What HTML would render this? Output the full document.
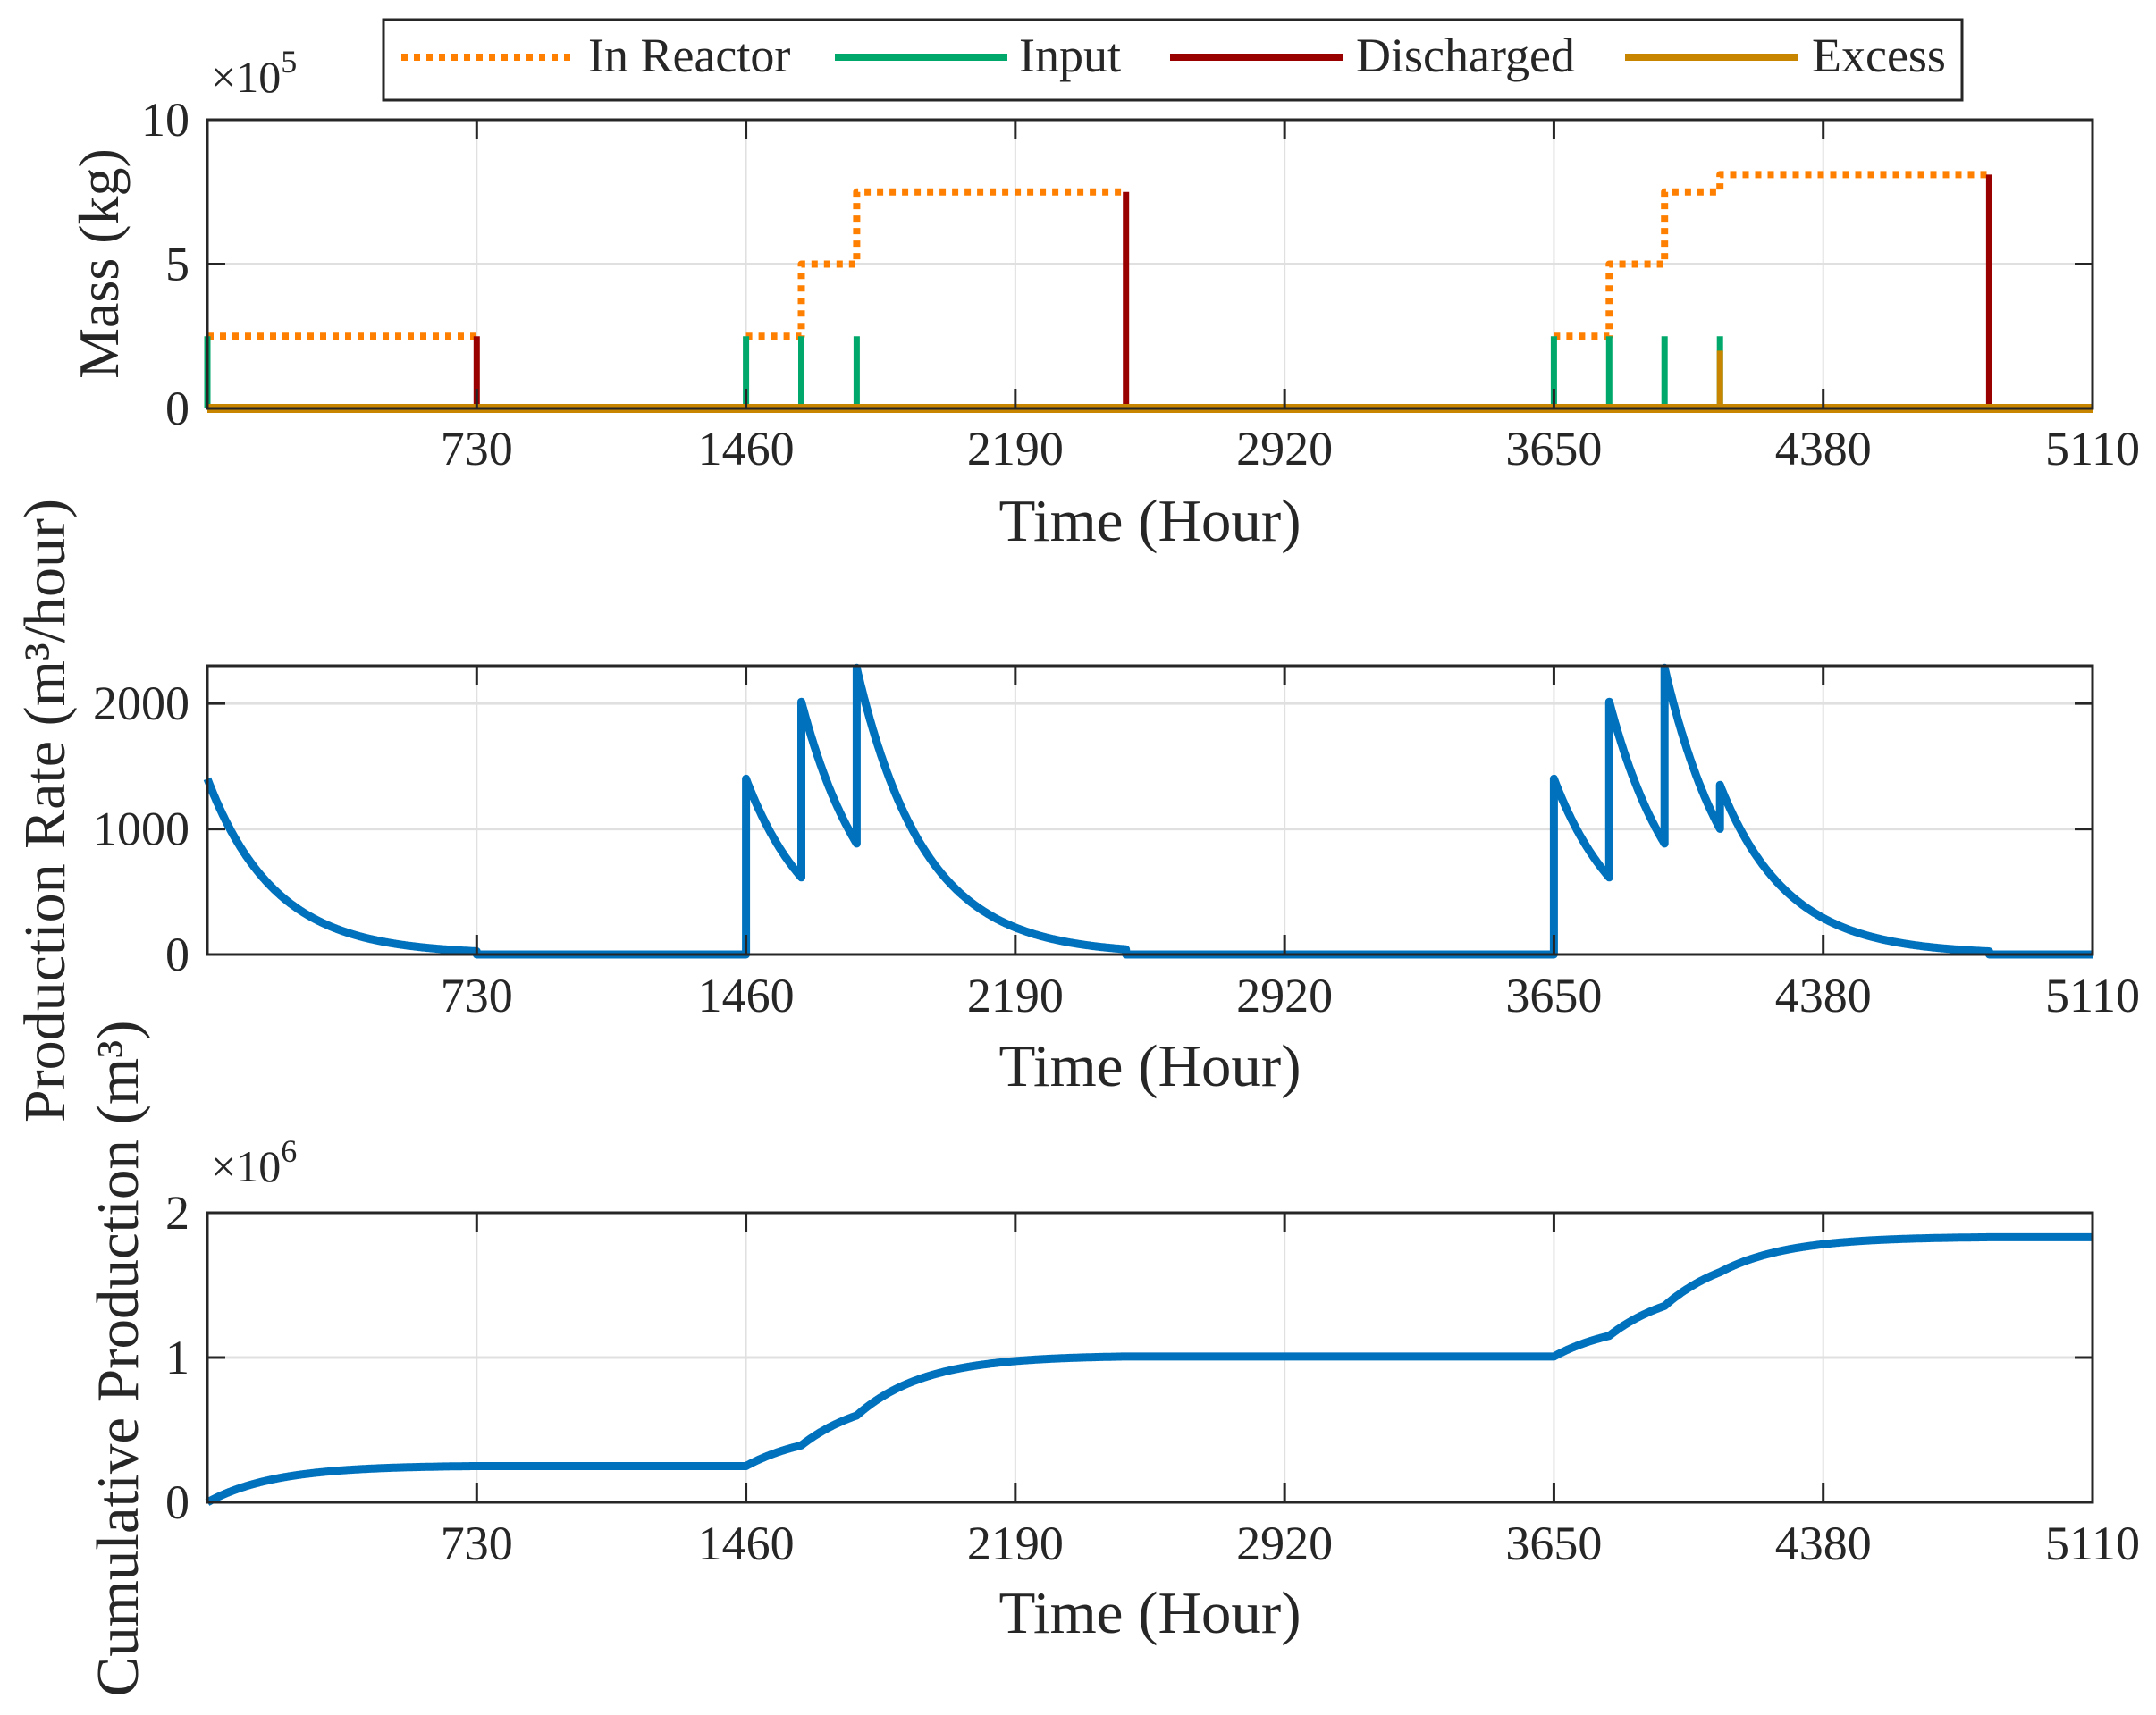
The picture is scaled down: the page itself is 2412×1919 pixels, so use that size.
<!DOCTYPE html>
<html><head><meta charset="utf-8"><style>
html,body{margin:0;padding:0;background:#fff;}
svg text{font-family:"Liberation Serif",serif;fill:#262626;}
</style></head><body>
<svg id="s" width="2412" height="1914" xmlns="http://www.w3.org/2000/svg">
<rect width="2412" height="1914" fill="#fff"/>
<g id="g"></g>
<!-- legend -->
<rect x="429" y="22" width="1766" height="90" fill="#fff" stroke="#262626" stroke-width="3"/>
<line x1="449" y1="64" x2="646" y2="64" stroke="#FF8000" stroke-width="8" stroke-dasharray="7,7"/>
<text x="658" y="80" font-size="54">In Reactor</text>
<line x1="934" y1="64" x2="1127" y2="64" stroke="#00A86B" stroke-width="8"/>
<text x="1140" y="80" font-size="54">Input</text>
<line x1="1309" y1="64" x2="1503" y2="64" stroke="#990000" stroke-width="8"/>
<text x="1517" y="80" font-size="54">Discharged</text>
<line x1="1818" y1="64" x2="2012" y2="64" stroke="#C88600" stroke-width="8"/>
<text x="2027" y="80" font-size="54">Excess</text>
<!-- exponents -->
<text x="236" y="103" font-size="50">×10<tspan font-size="36" dy="-22">5</tspan></text>
<text x="236" y="1322" font-size="50">×10<tspan font-size="36" dy="-22">6</tspan></text>
<!-- y labels -->
<text transform="translate(132,295) rotate(-90)" font-size="64" text-anchor="middle">Mass (kg)</text>
<text transform="translate(72,907) rotate(-90)" font-size="66" text-anchor="middle">Production Rate (m³/hour)</text>
<text transform="translate(154,1520) rotate(-90)" font-size="67" text-anchor="middle">Cumulative Production (m³)</text>
</svg>
<script>
var NS="http://www.w3.org/2000/svg",G=document.getElementById('g');
function el(t,a,txt){var e=document.createElementNS(NS,t);for(var k in a)e.setAttribute(k,a[k]);if(txt!==undefined)e.textContent=txt;G.appendChild(e);return e;}
var L=232,R=2341;
function X(t){return L+(R-L)*t/5110;}
var panels=[
 {top:134,bot:457,max:10,ticks:[0,5,10],labs:["0","5","10"],tl:520,xl:605},
 {top:745,bot:1068,max:2300,ticks:[0,1000,2000],labs:["0","1000","2000"],tl:1132,xl:1215},
 {top:1357,bot:1681,max:2,ticks:[0,1,2],labs:["0","1","2"],tl:1745,xl:1827}
];
function axes(p){
 function Y(v){return p.bot-(p.bot-p.top)*v/p.max;}
 p.Y=Y;
 for(var i=1;i<7;i++){var x=X(730*i);el('line',{x1:x,y1:p.top,x2:x,y2:p.bot,stroke:'#e0e0e0','stroke-width':2});}
 p.ticks.forEach(function(v){if(v>0&&v<p.max)el('line',{x1:L,y1:Y(v),x2:R,y2:Y(v),stroke:'#e0e0e0','stroke-width':3});});
}
function frame(p){
 var Y=p.Y;
 el('rect',{x:L,y:p.top,width:R-L,height:p.bot-p.top,fill:'none',stroke:'#262626','stroke-width':3});
 for(var i=1;i<=7;i++){var x=X(730*i);
  if(i<7){el('line',{x1:x,y1:p.top,x2:x,y2:p.top+22,stroke:'#262626','stroke-width':3});el('line',{x1:x,y1:p.bot,x2:x,y2:p.bot-22,stroke:'#262626','stroke-width':3});}
  el('text',{x:x,y:p.tl,'font-size':54,'text-anchor':'middle'},String(730*i));}
 p.ticks.forEach(function(v,j){el('line',{x1:L,y1:Y(v),x2:L+20,y2:Y(v),stroke:'#262626','stroke-width':3});el('line',{x1:R,y1:Y(v),x2:R-20,y2:Y(v),stroke:'#262626','stroke-width':3});
  el('text',{x:212,y:Y(v)+18,'font-size':54,'text-anchor':'end'},p.labs[j]);});
 el('text',{x:(L+R)/2,y:p.xl,'font-size':67,'text-anchor':'middle'},'Time (Hour)');
}
panels.forEach(axes);
var p=panels[0],Y=p.Y;
function pl(pts,c,w,da){var d=pts.map(function(q,i){return (i?'L':'M')+X(q[0]).toFixed(1)+','+Y(q[1]).toFixed(1);}).join('');var a={d:d,fill:'none',stroke:c,'stroke-width':w,'stroke-linejoin':'round'};if(da)a['stroke-dasharray']=da;el('path',a);}
var dash='7,7';
pl([[0,2.5],[730,2.5]],'#FF8000',8,dash);
pl([[1460,2.5],[1610,2.5],[1610,5],[1760,5],[1760,7.5],[2490,7.5]],'#FF8000',8,dash);
pl([[3650,2.5],[3800,2.5],[3800,5],[3950,5],[3950,7.5],[4100,7.5],[4100,8.1],[4830,8.1]],'#FF8000',8,dash);
[0,1460,1610,1760,3650,3800,3950,4100].forEach(function(t){pl([[t,0],[t,2.5]],'#00A86B',7);});
[[730,2.5],[2490,7.5],[4830,8.1]].forEach(function(q){pl([[q[0],0],[q[0],q[1]]],'#990000',7);});
pl([[4100,0],[4100,2.0]],'#C88600',7);
pl([[0,0],[5110,0]],'#C88600',10);
var tau=182,events=[[0,1400],[1460,1400],[1610,1400],[1760,1400],[3650,1400],[3800,1400],[3950,1400],[4100,350]],dis=[730,2490,4830];
function rate(t){var r=0;var lastD=-1;dis.forEach(function(d){if(d<=t)lastD=d;});
 events.forEach(function(e){if(e[0]<=t&&e[0]>lastD)r+=e[1]*Math.exp(-(t-e[0])/tau);});
 return r;}
var pts=[],cum=[],c=0,prev=rate(0);
var brk={};events.forEach(function(e){brk[e[0]]=1;});dis.forEach(function(d){brk[d]=1;});
for(var t=0;t<=5110;t+=2){
 if(brk[t]&&t>0){var eps=rate(t-0.01);pts.push([t,eps]);}
 var r=rate(t);pts.push([t,r]);
 if(t>0)c+=(prev+rate(t-0.001))/2*2;prev=r;cum.push([t,c/1e6]);
}
var p2=panels[1];Y=p2.Y;
pl(pts,'#0072BD',9);
var p3=panels[2];Y=p3.Y;
pl([[0,0]].concat(cum),'#0072BD',9);
panels.forEach(frame);
</script>
</body></html>
